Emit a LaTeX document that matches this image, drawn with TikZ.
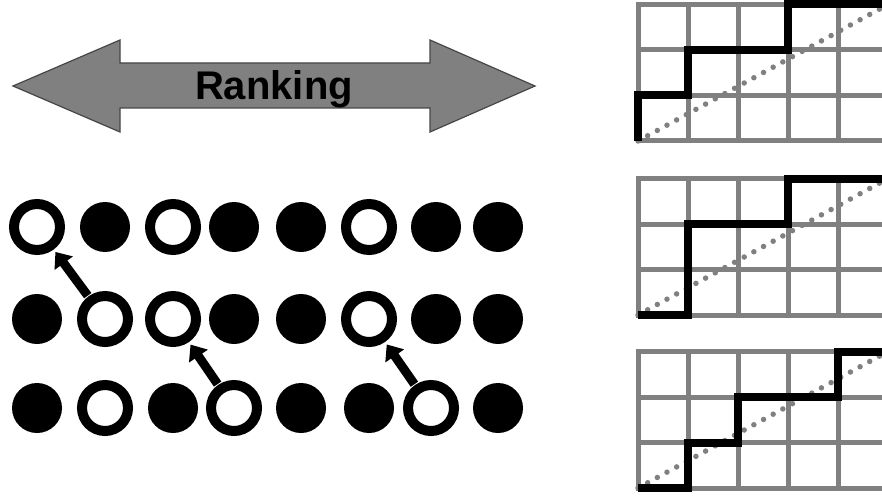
\documentclass[tikz,border=0pt]{standalone}
\usepackage{fontspec}
\newfontfamily\rankfont{Liberation Sans}
\usetikzlibrary{arrows.meta}
\definecolor{midgray}{RGB}{128,128,128}
\definecolor{edgegray}{RGB}{70,70,70}
\tikzset{
  fullball/.style={circle,fill=black,inner sep=0pt,minimum size=50pt},
  openball/.style={circle,draw=black,line width=10pt,inner sep=0pt,minimum size=46pt},
  rankmove/.style={line width=9pt,-{Triangle[length=14pt,width=22pt]},shorten <=1pt,shorten >=3pt},
  gridline/.style={midgray,line width=5pt,line cap=rect},
  stair/.style={black,line width=8pt,line join=miter},
  diag/.style={midgray,line width=5.5pt,line cap=round,dash pattern=on 0pt off 11pt},
}
\begin{document}
\begin{tikzpicture}[x=1pt,y=-1pt]
    \useasboundingbox (0,0) rectangle (882,497);

    % Ranking arrow
    \draw[fill=midgray,draw=edgegray,line width=1.2pt]
        (13,86) -- (120,40) -- (120,63) -- (430,63) -- (430,40) -- (535,86)
        -- (430,132) -- (430,108) -- (120,108) -- (120,132) -- cycle;
    \node[font=\rankfont\bfseries\fontsize{40}{40}\selectfont,anchor=base] (rank) at (274,100) {Ranking};

    % Rows of items
    \foreach \x/\kind [count=\i] in {37/openball,105/fullball,173/openball,234/fullball,301/fullball,369/openball,436/fullball,498/fullball}
        \node[\kind] (a\i) at (\x,227) {};
    \foreach \x/\kind [count=\i] in {37/fullball,105/openball,173/openball,234/fullball,301/fullball,369/openball,436/fullball,498/fullball}
        \node[\kind] (b\i) at (\x,319) {};
    \foreach \x/\kind [count=\i] in {37/fullball,105/openball,173/fullball,234/openball,301/fullball,369/fullball,431/openball,498/fullball}
        \node[\kind] (c\i) at (\x,408) {};

    % Moves up one row
    \draw[rankmove] (b2) -- (a1);
    \draw[rankmove] (c4) -- (b3);
    \draw[rankmove] (c7) -- (b6);

    % Lattice paths
    \begin{scope}
        \clip (0,0) rectangle (882,497);

        % Top
        \begin{scope}[shift={(638,141)},x=50pt,y=45.5pt]
            \foreach \i in {0,...,6} \draw[gridline] (\i,0) -- (\i,3);
            \foreach \j in {0,...,3} \draw[gridline] (0,\j) -- (6,\j);
            \draw[diag] (0,0) -- (5,3);
            \draw[stair] (0,0) |- (1,1) |- (3,2) |- (6,3);
        \end{scope}

        % Middle
        \begin{scope}[shift={(638,315)},x=50pt,y=45.5pt]
            \foreach \i in {0,...,6} \draw[gridline] (\i,0) -- (\i,3);
            \foreach \j in {0,...,3} \draw[gridline] (0,\j) -- (6,\j);
            \draw[diag] (0,0) -- (5,3);
            \draw[stair] (0,0) -| (1,2) -| (3,3) -- (6,3);
        \end{scope}

        % Bottom
        \begin{scope}[shift={(638,488)},x=50pt,y=45.5pt]
            \foreach \i in {0,...,6} \draw[gridline] (\i,0) -- (\i,3);
            \foreach \j in {0,...,3} \draw[gridline] (0,\j) -- (6,\j);
            \draw[diag] (0,0) -- (5,3);
            \draw[stair] (0,0) -| (1,1) -| (2,2) -| (4,3) -- (6,3);
        \end{scope}
    \end{scope}
\end{tikzpicture}
\end{document}
